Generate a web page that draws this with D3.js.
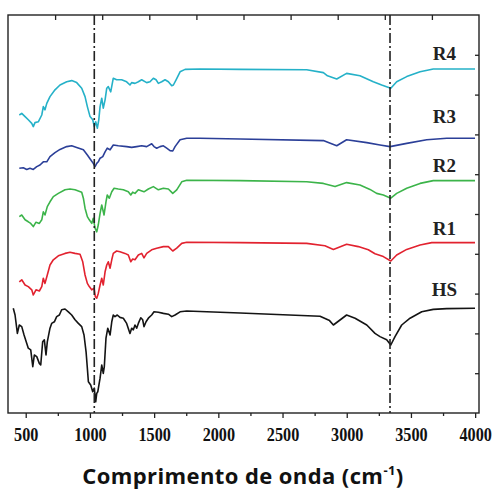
<!DOCTYPE html>
<html>
<head>
<meta charset="utf-8">
<script src="https://cdn.jsdelivr.net/npm/d3@7"></script>
<style>
  body { margin: 0; background: #fff; }
</style>
</head>
<body>
<div id="viz"></div>
<script>
const margin = { top: 15, right: 14, bottom: 76, left: 8 };
const width = 493;
const height = 489;

// FTIR spectra: [wavenumber (cm-1), transmittance (a.u., offset)]
const hsData = [[403,26.2],[417,24.5],[435,19.9],[450,22],[469,21.6],[487,19.5],[520,16.2],[539,15.8],[555,11.6],[567,14.5],[586,14.1],[606,12.4],[617,12],[632,17.8],[645,18.3],[658,14.5],[668,17.8],[689,21.2],[702,22.4],[723,22.8],[741,24.1],[762,24.5],[780,25.8],[806,26],[832,25.3],[858,24.5],[884,23.3],[910,22.4],[936,21.6],[954,19.5],[970,15.3],[980,11.2],[988,7.8],[1006,7],[1022,5.3],[1034,6.2],[1045,2.8],[1053,4.9],[1061,5.3],[1079,8.7],[1092,12],[1104,9.9],[1112,11.6],[1125,18.7],[1139,21.2],[1157,19.5],[1170,22.8],[1182,24.5],[1195,24.1],[1213,24.5],[1234,23.9],[1260,23.7],[1286,22.4],[1312,19.9],[1325,21.2],[1338,20.8],[1351,22],[1364,21.2],[1377,22.4],[1396,23.8],[1411,23.3],[1421,21.6],[1437,22.8],[1455,23.7],[1481,24.5],[1499,25.3],[1533,25.2],[1572,24.9],[1611,24.7],[1637,24.1],[1663,24.5],[1702,25.3],[1754,25.5],[2169,25],[2792,24.2],[2866,23.1],[2896,22],[2999,24.5],[3065,23.7],[3156,22],[3220,19.9],[3259,19.1],[3311,18.3],[3343,17],[3376,19.1],[3428,22],[3493,23.7],[3584,25.3],[3674,25.9],[3779,26.1],[3999,26.2]];

const r1Data = [[450,32.8],[469,33.3],[495,32],[520,31.6],[547,30.8],[559,29.5],[580,30.8],[606,30.5],[625,31.6],[637,33.7],[650,32.4],[668,34.5],[689,37],[715,38.3],[754,39.3],[806,39.9],[845,40.2],[884,39.9],[923,39.7],[944,37.8],[962,34.5],[980,32.4],[995,31.6],[1014,30.8],[1032,31.2],[1042,29.1],[1053,28.7],[1065,29.9],[1079,32],[1092,33.7],[1104,32],[1118,35.3],[1131,37],[1143,37.8],[1157,36.2],[1170,38.3],[1182,39.9],[1208,40.5],[1234,40.3],[1273,39.9],[1299,39.5],[1318,37.8],[1333,38.5],[1351,38.3],[1377,39.5],[1403,39.9],[1421,38.8],[1442,39.9],[1481,40.8],[1520,41.2],[1572,41.6],[1611,41.6],[1645,40.5],[1676,41.2],[1715,42.4],[1754,42.7],[2169,42.6],[2688,42.4],[2830,41.8],[2896,40.9],[2999,42.2],[3090,41.6],[3168,40.8],[3220,39.8],[3285,39.1],[3343,38],[3389,39.5],[3467,40.9],[3571,42],[3662,42.6],[3999,42.6]];

const r2Data = [[450,49.1],[469,49.5],[495,48.3],[520,47.8],[539,47.4],[559,46.6],[580,47.7],[606,47.4],[625,48.3],[637,50.3],[650,49.5],[668,51.6],[689,52.8],[715,54.1],[754,54.9],[806,55.8],[845,56],[884,55.8],[936,55.2],[949,53.7],[962,51.2],[980,49.1],[995,48.3],[1014,47.4],[1026,48.7],[1040,46.2],[1053,45.3],[1065,47],[1079,49.9],[1092,52],[1110,49.5],[1125,52.8],[1135,54.5],[1151,53.7],[1170,55.3],[1188,56.2],[1221,56],[1260,55.8],[1299,55.3],[1318,54.5],[1333,55.2],[1351,54.9],[1377,55.8],[1421,55.3],[1455,56],[1494,56.6],[1533,55.8],[1572,56.2],[1611,56],[1645,54.9],[1676,55.8],[1715,57.8],[1754,58.2],[2169,58.1],[2688,57.8],[2818,57.4],[2909,56.6],[2999,57.6],[3103,57],[3181,55.9],[3233,54.9],[3285,54.5],[3343,53.7],[3389,54.9],[3467,56.2],[3571,57.4],[3674,58.1],[3999,58.1]];

const r3Data = [[450,61.2],[481,61.3],[508,60.9],[533,61.2],[559,60.9],[586,61.6],[611,62],[637,62.8],[664,62.8],[689,64.1],[728,65.1],[767,65.9],[819,66.6],[858,66.8],[897,66.4],[949,65.8],[980,64.5],[1006,63.3],[1026,62.4],[1040,61.6],[1053,62.4],[1065,62.8],[1079,63.7],[1100,64.1],[1118,65.3],[1135,66.2],[1157,65.8],[1182,67],[1221,66.8],[1286,66.6],[1325,66.4],[1364,66.6],[1403,66.8],[1442,66.6],[1481,67.3],[1499,66.6],[1520,66.2],[1546,66.6],[1572,66.8],[1598,66.2],[1624,65.6],[1645,65.5],[1663,66.6],[1702,68.3],[1754,68.7],[1857,68.7],[2169,68.5],[2818,68.1],[2857,67.6],[2922,66.8],[2999,68.3],[3156,67.6],[3259,67],[3337,66.6],[3467,67.4],[3623,68.3],[3779,68.7],[3999,68.7]];

const r4Data = [[450,74.5],[469,74.9],[495,74.1],[520,73.3],[547,72.4],[559,71.6],[572,72.6],[598,72.8],[625,74.5],[637,76.6],[650,75.8],[664,77.4],[689,79.1],[728,80.8],[767,82],[819,82.8],[858,83.1],[897,82.6],[936,81.2],[962,79.1],[980,76.6],[1001,74.1],[1022,73.3],[1034,71.6],[1045,72.8],[1058,71.2],[1069,73.3],[1079,76.6],[1092,78.7],[1104,76.2],[1118,78.3],[1131,81.2],[1143,81.6],[1162,80.3],[1182,83.7],[1208,83.3],[1247,83.3],[1286,82.8],[1312,82],[1325,82.6],[1351,82.4],[1377,82.8],[1403,83.3],[1442,82.6],[1468,82.8],[1494,83.7],[1515,83.3],[1533,82.4],[1559,82.8],[1585,83.3],[1611,82.8],[1637,81.8],[1650,82],[1671,83.3],[1702,85.3],[1741,85.9],[1857,86],[2169,85.9],[2688,85.8],[2818,85.1],[2850,84.3],[2922,83.5],[2999,84.9],[3103,84.3],[3207,82.8],[3272,82],[3343,81.2],[3389,82.8],[3467,84.1],[3571,85.3],[3674,86],[3999,86]];

const seriesNames = ['HS', 'R1', 'R2', 'R3', 'R4'];
const seriesColors = ['#141414', '#e2222f', '#3cb44a', '#2b3f98', '#25b1c8'];
const labelValues = [29.25, 44.5, 60.25, 72.5, 88.25];
const markerLines = [1034, 3337];
const xTicks = [500, 1000, 1500, 2000, 2500, 3000, 3500, 4000];
const xMinorTicks = [750, 1250, 1750, 2250, 2750, 3250, 3750];

const allSeries = [hsData, r1Data, r2Data, r3Data, r4Data];

const xScale = d3.scaleLinear()
    .domain([362, 4030])
    .range([margin.left, width - margin.right]);

const yScale = d3.scaleLinear()
    .domain([0, 99.5])
    .range([height - margin.bottom, margin.top]);

const svg = d3.select('#viz')
    .append('svg')
        .attr('width', width)
        .attr('height', height)
        .attr('viewBox', [0, 0, width, height]);

const plotBottom = height - margin.bottom;

// bottom axis, major + minor ticks
const xAxis = svg.append('g')
    .attr('transform', `translate(0, ${plotBottom})`)
    .call(d3.axisBottom(xScale).tickValues(xTicks).tickSize(5).tickPadding(10).tickFormat(d3.format('d')));
xAxis.select('.domain').remove();
xAxis.selectAll('line').attr('stroke', '#222').attr('stroke-width', 1.3);
xAxis.selectAll('text')
    .attr('font-family', '"Liberation Serif", serif')
    .attr('font-weight', 'bold')
    .attr('font-size', 18)
    .attr('fill', '#111')
    .attr('transform', 'scale(0.9,1)');

const xMinor = svg.append('g')
    .attr('transform', `translate(0, ${plotBottom})`)
    .call(d3.axisBottom(xScale).tickValues(xMinorTicks).tickSize(3).tickFormat(''));
xMinor.select('.domain').remove();
xMinor.selectAll('line').attr('stroke', '#222').attr('stroke-width', 1.3);

// top and right inner ticks (10 equal divisions)
const topScale = d3.scaleLinear().domain([0, 10]).range([margin.left, width - margin.right]);
const topAxis = svg.append('g')
    .attr('transform', `translate(0, ${margin.top})`)
    .call(d3.axisTop(topScale).tickValues(d3.range(1, 10)).tickSize(-5).tickFormat(''));
topAxis.select('.domain').remove();
topAxis.selectAll('line').attr('stroke', '#222').attr('stroke-width', 1.3);

const rightScale = d3.scaleLinear().domain([0, 10]).range([plotBottom, margin.top]);
const rightAxis = svg.append('g')
    .attr('transform', `translate(${width - margin.right}, 0)`)
    .call(d3.axisRight(rightScale).tickValues(d3.range(1, 10)).tickSize(-4).tickFormat(''));
rightAxis.select('.domain').remove();
rightAxis.selectAll('line').attr('stroke', '#222').attr('stroke-width', 1.3);

// frame
svg.append('rect')
    .attr('x', margin.left)
    .attr('y', margin.top)
    .attr('width', width - margin.left - margin.right)
    .attr('height', plotBottom - margin.top)
    .attr('fill', 'none')
    .attr('stroke', '#222')
    .attr('stroke-width', 1.4);

// spectra
const line = d3.line()
    .x(d => xScale(d[0]))
    .y(d => yScale(d[1]));

svg.selectAll('path.spectrum')
    .data(allSeries)
    .join('path')
        .attr('class', 'spectrum')
        .attr('d', line)
        .attr('fill', 'none')
        .attr('stroke', (d, i) => seriesColors[i])
        .attr('stroke-width', 1.6)
        .attr('stroke-linejoin', 'round');

// dash-dot marker lines
svg.selectAll('line.marker')
    .data(markerLines)
    .join('line')
        .attr('class', 'marker')
        .attr('x1', d => xScale(d))
        .attr('x2', d => xScale(d))
        .attr('y1', margin.top)
        .attr('y2', plotBottom)
        .attr('stroke', '#222')
        .attr('stroke-width', 1.6)
        .attr('stroke-dasharray', '10,3,2,3');

// series labels
svg.selectAll('text.label')
    .data(seriesNames)
    .join('text')
        .attr('class', 'label')
        .attr('x', xScale(3760))
        .attr('y', (d, i) => yScale(labelValues[i]))
        .attr('text-anchor', 'middle')
        .attr('font-family', '"Liberation Serif", serif')
        .attr('font-weight', 'bold')
        .attr('font-size', 19)
        .attr('fill', '#222')
        .text(d => d);

// axis title
const title = svg.append('text')
    .attr('x', 243)
    .attr('y', 484)
    .attr('text-anchor', 'middle')
    .attr('font-family', '"Open Sans", sans-serif')
    .attr('font-weight', 'bold')
    .attr('font-size', 22)
    .attr('letter-spacing', 0.4)
    .attr('fill', '#111')
    .text('Comprimento de onda (cm');
title.append('tspan')
    .attr('font-size', 13)
    .attr('dy', -9)
    .text('-1');
title.append('tspan')
    .attr('dy', 9)
    .text(')');
</script>
</body>
</html>
